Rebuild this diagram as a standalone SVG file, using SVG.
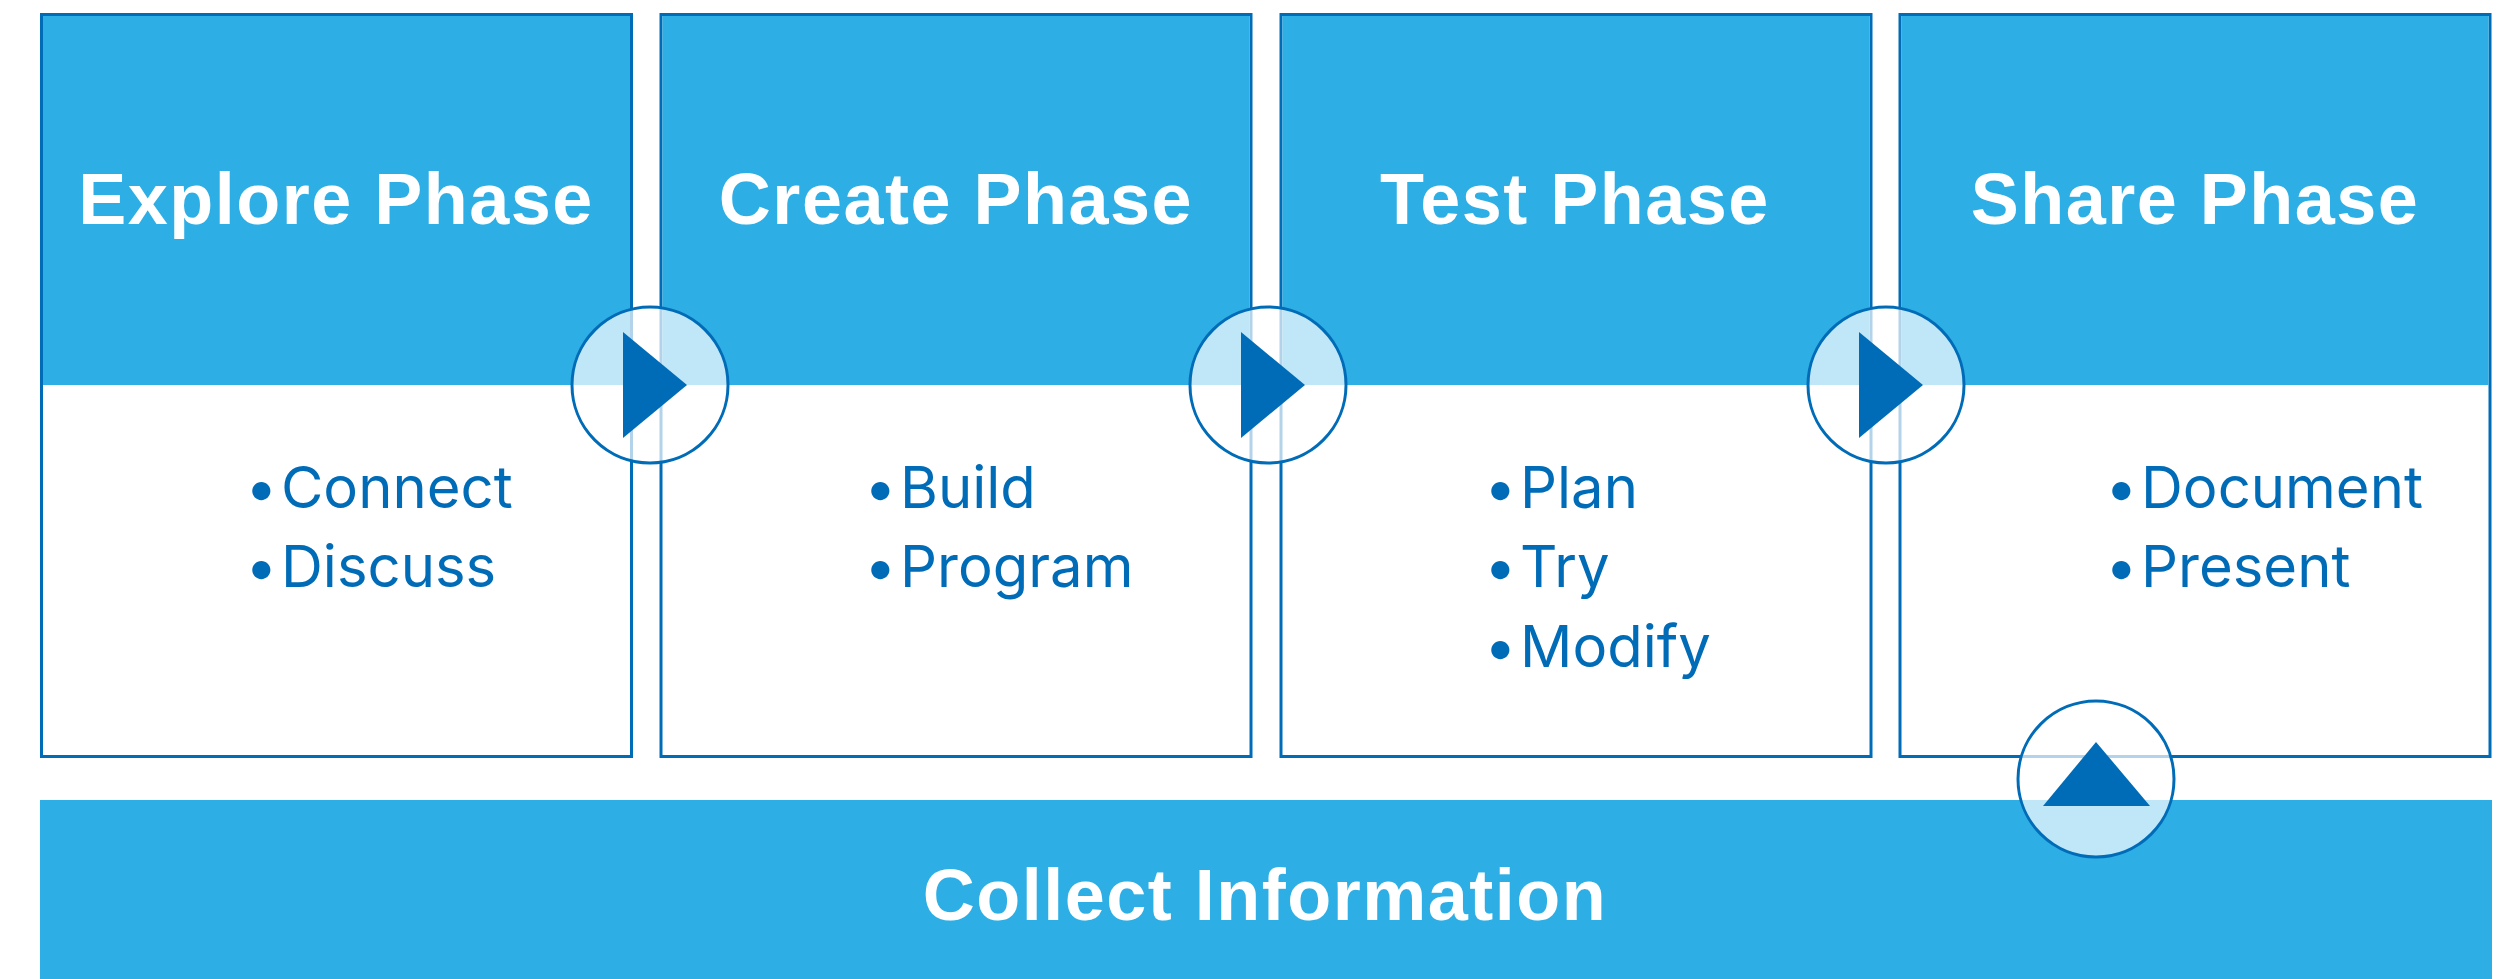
<svg xmlns="http://www.w3.org/2000/svg" width="2514" height="979" viewBox="0 0 2514 979">
<defs>
<style>
.box{fill:#fff;stroke:#006CB7;stroke-width:3}
.head{fill:#2DAFE6}
.h{font-family:"Liberation Sans",Arial,sans-serif;font-weight:700;font-size:72px;fill:#fff;text-anchor:middle;letter-spacing:1.5px}
.b{font-family:Inter,"Liberation Sans",sans-serif;font-size:58px;fill:#006CB7}
.c{fill:#fff;fill-opacity:.7;stroke:#006CB7;stroke-width:3}
.a{fill:#006CB7}
</style>
</defs>
<rect width="2514" height="979" fill="#fff"/>
<g id="explore">
<rect class="box" x="41.500" y="14.500" width="590" height="742"/>
<rect class="head" x="43" y="16" width="587" height="369"/>
<text class="h" x="336" y="224">Explore Phase</text>
<text class="b" y="508"><tspan x="245">•</tspan><tspan x="281">Connect</tspan></text>
<text class="b" y="587"><tspan x="245">•</tspan><tspan x="281">Discuss</tspan></text>
</g>
<g id="create">
<rect class="box" x="661" y="14.500" width="590" height="742"/>
<rect class="head" x="662.500" y="16" width="587" height="369"/>
<text class="h" x="956" y="224">Create Phase</text>
<text class="b" y="508"><tspan x="864">•</tspan><tspan x="900">Build</tspan></text>
<text class="b" y="587"><tspan x="864">•</tspan><tspan x="900">Program</tspan></text>
</g>
<g id="test">
<rect class="box" x="1281" y="14.500" width="590" height="742"/>
<rect class="head" x="1282.500" y="16" width="587" height="369"/>
<text class="h" x="1575" y="224">Test Phase</text>
<text class="b" y="508"><tspan x="1484">•</tspan><tspan x="1520">Plan</tspan></text>
<text class="b" y="587"><tspan x="1484">•</tspan><tspan x="1520">Try</tspan></text>
<text class="b" y="667"><tspan x="1484">•</tspan><tspan x="1520">Modify</tspan></text>
</g>
<g id="share">
<rect class="box" x="1900" y="14.500" width="590" height="742"/>
<rect class="head" x="1901.500" y="16" width="587" height="369"/>
<text class="h" x="2195" y="224">Share Phase</text>
<text class="b" y="508"><tspan x="2105">•</tspan><tspan x="2141">Document</tspan></text>
<text class="b" y="587"><tspan x="2105">•</tspan><tspan x="2141">Present</tspan></text>
</g>
<g id="collect">
<rect class="head" x="40" y="800" width="2452" height="179"/>
<text class="h" x="1265" y="920">Collect Information</text>
</g>
<g id="connectors">
<g><circle class="c" cx="650" cy="385" r="78"/><polygon class="a" points="623,332 687,385 623,438"/></g>
<g><circle class="c" cx="1268" cy="385" r="78"/><polygon class="a" points="1241,332 1305,385 1241,438"/></g>
<g><circle class="c" cx="1886" cy="385" r="78"/><polygon class="a" points="1859,332 1923,385 1859,438"/></g>
<g><circle class="c" cx="2096" cy="779" r="78"/><polygon class="a" points="2096,742 2150,806 2043,806"/></g>
</g>
</svg>
